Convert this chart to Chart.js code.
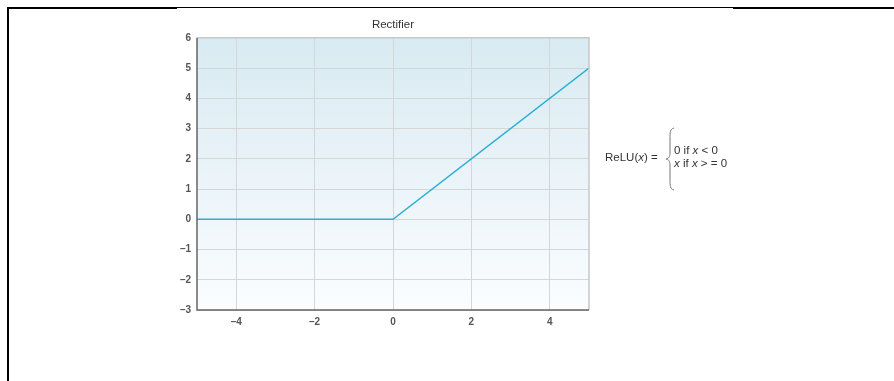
<!DOCTYPE html>
<html>
<head>
<meta charset="utf-8">
<script src="https://cdn.jsdelivr.net/npm/chart.js@4/dist/chart.umd.min.js"></script>
<style>
  html, body { margin: 0; padding: 0; background: #fff; }
  #wrap { position: relative; width: 894px; height: 381px; overflow: hidden; }
  #c { position: absolute; left: 0; top: 0; }
  .rule { position: absolute; background: #000; }
  #formula { position: absolute; left: 605px; top: 124px; font-family: "Liberation Sans", Arial, sans-serif; color: #333; }
  #formula .lhs { position: absolute; left: 0; top: 27px; white-space: nowrap; font-size: 11.5px; }
  #formula .cases { position: absolute; left: 69px; top: 20px; white-space: nowrap; line-height: 12.5px; font-size: 11.5px; }
  #formula svg { position: absolute; left: 60px; top: 3px; }
</style>
</head>
<body>
<div id="wrap">
  <canvas id="c" width="894" height="381"></canvas>
  <div class="rule" style="left:7px;top:7px;width:170px;height:2px"></div>
  <div class="rule" style="left:177px;top:7px;width:556px;height:1px"></div>
  <div class="rule" style="left:733px;top:7px;width:161px;height:2px"></div>
  <div class="rule" style="left:7px;top:7px;width:2px;height:374px"></div>
  <div id="formula">
    <span class="lhs">ReLU(<i>x</i>) =</span>
    <svg width="10" height="64" viewBox="0 0 10 64">
      <path d="M9 1 C5 2 5 5 5 12 L5 26 C5 30 3 32 1 32 C3 32 5 34 5 38 L5 52 C5 59 5 62 9 63" fill="none" stroke="#777" stroke-width="1"/>
    </svg>
    <div class="cases">0 if <i>x</i> &lt; 0<br><i>x</i> if <i>x</i> &gt; = 0</div>
  </div>
</div>
<script>
// ReLU curve
const reluX = [-5, 0, 5];
const reluY = [0, 0, 5];
const xTicks = [-4, -2, 0, 2, 4];
const yTicks = [-3, -2, -1, 0, 1, 2, 3, 4, 5, 6];
const chartTitle = 'Rectifier';

const tickFont = { family: 'Liberation Sans', size: 10, weight: 'bold' };
const minus = v => String(v).replace('-', '\u2013');

// gradient fill + light frame behind plot
const plotBg = {
    id: 'plotBg',
    afterLayout(chart) {
        // center the title over the plot, not over the whole padded box
        const t = chart.titleBlock;
        if (t) { t.left = chart.chartArea.left; t.right = chart.chartArea.right; }
    },
    beforeDraw(chart) {
        const { ctx, chartArea: a } = chart;
        const g = ctx.createLinearGradient(0, a.top, 0, a.bottom);
        g.addColorStop(0, '#d8eaf2');
        g.addColorStop(1, '#fbfdff');
        ctx.save();
        ctx.fillStyle = g;
        ctx.fillRect(a.left, a.top, a.right - a.left, a.bottom - a.top);
        ctx.restore();
    },
    afterDatasetsDraw(chart) {
        const { ctx, chartArea: a } = chart;
        ctx.save();
        ctx.strokeStyle = '#c8c8c8';
        ctx.lineWidth = 1.5;
        ctx.beginPath();
        ctx.moveTo(a.left, a.top);
        ctx.lineTo(a.right, a.top);
        ctx.lineTo(a.right, a.bottom);
        ctx.stroke();
        ctx.strokeStyle = '#666';
        ctx.beginPath();
        ctx.moveTo(a.left, a.top);
        ctx.lineTo(a.left, a.bottom);
        ctx.lineTo(a.right, a.bottom);
        ctx.stroke();
        ctx.restore();
    }
};

new Chart(document.getElementById('c'), {
    type: 'line',
    data: {
        datasets: [{
            data: reluX.map((x, i) => ({ x: x, y: reluY[i] })),
            borderColor: '#2bb0d4',
            borderWidth: 1.5,
            pointRadius: 0,
            fill: false,
            tension: 0
        }]
    },
    options: {
        responsive: false,
        animation: false,
        layout: { padding: { left: 177, right: 305, top: 18, bottom: 49 } },
        plugins: {
            legend: { display: false },
            tooltip: { enabled: false },
            title: {
                display: true,
                text: chartTitle,
                color: '#333',
                font: { family: 'Liberation Sans', size: 11.5, weight: 'normal' },
                padding: { top: 0, bottom: 6 }
            }
        },
        scales: {
            x: {
                type: 'linear',
                min: -5, max: 5,
                afterBuildTicks: s => { s.ticks = xTicks.map(v => ({ value: v })); },
                afterFit: s => { s.height = 22; },
                grid: { color: '#d6d6d6', drawTicks: false, lineWidth: 1 },
                border: { display: false },
                ticks: { color: '#555', font: tickFont, padding: 6, callback: minus }
            },
            y: {
                min: -3, max: 6,
                afterBuildTicks: s => { s.ticks = yTicks.map(v => ({ value: v })); },
                afterFit: s => { s.width = 20; },
                grid: { color: '#d6d6d6', drawTicks: false, lineWidth: 1 },
                border: { display: false },
                ticks: { color: '#555', font: tickFont, padding: 6, callback: minus }
            }
        }
    },
    plugins: [plotBg]
});
</script>
</body>
</html>
